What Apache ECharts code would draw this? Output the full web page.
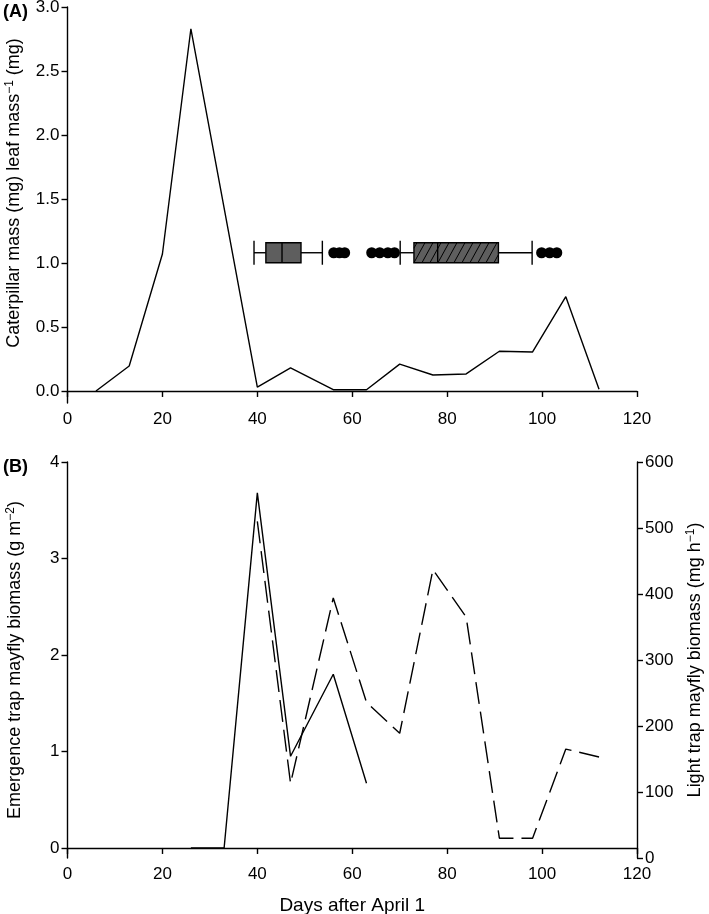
<!DOCTYPE html>
<html><head><meta charset="utf-8">
<script src="https://cdn.jsdelivr.net/npm/echarts@6/dist/echarts.min.js"></script>
<style>html,body{margin:0;padding:0;background:#fff}#c{width:709px;height:914px}</style>
</head><body><div id="c"></div>
<script>
// ---- data ----
const daysA = [6, 13, 20, 26, 40, 47, 56, 63, 70, 77, 84, 91, 98, 105, 112];
const caterpillar = [0.0, 0.195, 1.07, 2.83, 0.03, 0.18, 0.01, 0.01, 0.21, 0.125, 0.133, 0.31, 0.305, 0.737, 0.013];
const boxLevel = 1.08;
const box1 = [39.3, 41.8, 45.2, 49.2, 53.7];   // whisker-lo, q1, median, q3, whisker-hi (days)
const box2 = [70.1, 73.0, 78.0, 90.8, 97.9];
const box1Outliers = [56.1, 57.3, 58.4];
const box2Outliers = [64.1, 65.8, 67.5, 68.9, 99.9, 101.6, 103.1];
const daysEmerg = [26, 33, 40, 47, 56, 63];
const emergence = [0, 0, 3.68, 0.95, 1.80, 0.67];
const daysLight = [40, 47, 56, 63, 70, 77, 84, 91, 98, 105, 112];
const lightTrap = [510, 113, 394, 236, 189, 437, 365, 30, 30, 165, 153];
const xTicks = [0, 20, 40, 60, 80, 100, 120];
const yTicksA = [0, 0.5, 1, 1.5, 2, 2.5, 3];
const yTicksBL = [0, 1, 2, 3, 4];
const yTicksBR = [0, 100, 200, 300, 400, 500, 600];

const FONT = 'Liberation Sans, Arial, Helvetica, sans-serif';
const chart = echarts.init(document.getElementById('c'), null, {renderer: 'canvas'});

const axisCommon = {
  axisLine: {show: true, lineStyle: {color: '#000', width: 1.4}},
  axisTick: {show: true, length: 6, lineStyle: {color: '#000', width: 1.4}},
  axisLabel: {color: '#000', fontSize: 17, fontFamily: FONT, margin: 8},
  splitLine: {show: false}
};
function xAx(grid, name) {
  return Object.assign({}, axisCommon, {
    type: 'value', gridIndex: grid, min: xTicks[0], max: xTicks[xTicks.length - 1],
    interval: xTicks[1] - xTicks[0],
    axisLabel: Object.assign({}, axisCommon.axisLabel, {margin: 8}),
    name: name || '', nameLocation: 'middle', nameGap: 38,
    nameTextStyle: {color: '#000', fontSize: 19, fontFamily: FONT}
  });
}
function richName(main, sup, tail) {
  return '{n|' + main + '}{s|' + sup + '}{n|' + tail + '}';
}
const richStyle = {
  n: {fontSize: 18, fontFamily: FONT, color: '#000', lineHeight: 22},
  s: {fontSize: 12, fontFamily: FONT, color: '#000', lineHeight: 13, verticalAlign: 'top'}
};

function renderBox(params, api) {
  const lo = api.value(0), q1 = api.value(1), med = api.value(2), q3 = api.value(3), hi = api.value(4);
  const lev = api.value(5), hatch = api.value(6);
  const pLo = api.coord([lo, lev]), pQ1 = api.coord([q1, lev]), pMed = api.coord([med, lev]);
  const pQ3 = api.coord([q3, lev]), pHi = api.coord([hi, lev]);
  const y = pLo[1], h = 10, c = 12;
  const st = {stroke: '#000', lineWidth: 1.4, fill: null};
  const ch = [
    {type: 'line', shape: {x1: pLo[0], y1: y, x2: pQ1[0], y2: y}, style: st},
    {type: 'line', shape: {x1: pQ3[0], y1: y, x2: pHi[0], y2: y}, style: st},
    {type: 'line', shape: {x1: pLo[0], y1: y - c, x2: pLo[0], y2: y + c}, style: st},
    {type: 'line', shape: {x1: pHi[0], y1: y - c, x2: pHi[0], y2: y + c}, style: st},
    {type: 'rect', shape: {x: pQ1[0], y: y - h, width: pQ3[0] - pQ1[0], height: 2 * h},
      style: {fill: '#5e5e5e', stroke: '#000', lineWidth: 1.4}}
  ];
  if (hatch) {
    const xl = pQ1[0], xr = pQ3[0], dx = 11;
    for (let x = xl - dx + 3; x < xr; x += 8) {
      const t0 = Math.max(0, (xl - x) / dx), t1 = Math.min(1, (xr - x) / dx);
      if (t1 > t0) {
        ch.push({type: 'line', shape: {
          x1: x + t0 * dx, y1: y + h - t0 * 2 * h,
          x2: x + t1 * dx, y2: y + h - t1 * 2 * h}, style: {stroke: '#000', lineWidth: 1}});
      }
    }
  }
  ch.push({type: 'line', shape: {x1: pMed[0], y1: y - h, x2: pMed[0], y2: y + h}, style: st});
  return {type: 'group', children: ch};
}

const outliers = box1Outliers.concat(box2Outliers).map(d => [d, boxLevel]);

const option = {
  backgroundColor: '#fff',
  animation: false,
  textStyle: {fontFamily: FONT},
  grid: [
    {left: 67.5, right: 72, top: 7, height: 396, containLabel: false, outerBoundsMode: 'none'},
    {left: 67.5, right: 72, top: 462, height: 396, containLabel: false, outerBoundsMode: 'none'}
  ],
  xAxis: [xAx(0), xAx(1, 'Days after April 1')],
  yAxis: [
    Object.assign({}, axisCommon, {
      type: 'value', gridIndex: 0, min: -0.094, max: 3,
      axisLabel: Object.assign({}, axisCommon.axisLabel, {customValues: yTicksA, formatter: v => v.toFixed(1)}),
      axisTick: Object.assign({}, axisCommon.axisTick, {customValues: yTicksA}),
      name: richName('Caterpillar mass (mg) leaf mass', '−1', ' (mg)'),
      nameLocation: 'middle', nameGap: 42, nameRotate: 90,
      nameTextStyle: {rich: richStyle, padding: [0, 0, 0, 24]}
    }),
    Object.assign({}, axisCommon, {
      type: 'value', gridIndex: 1, min: -0.104, max: 4, position: 'left',
      axisLabel: Object.assign({}, axisCommon.axisLabel, {customValues: yTicksBL, formatter: v => String(v)}),
      axisTick: Object.assign({}, axisCommon.axisTick, {customValues: yTicksBL}),
      name: richName('Emergence trap mayfly biomass (g m', '−2', ')'),
      nameLocation: 'middle', nameGap: 41, nameRotate: 90,
      nameTextStyle: {rich: richStyle}
    }),
    Object.assign({}, axisCommon, {
      type: 'value', gridIndex: 1, min: 0, max: 600, interval: 100, position: 'right',
      name: richName('Light trap mayfly biomass (mg h', '−1', ')'),
      nameLocation: 'middle', nameGap: 45, nameRotate: 90,
      nameTextStyle: {rich: richStyle}
    })
  ],
  graphic: [
    {type: 'text', left: 3, top: 3, style: {text: '(A)', fontSize: 18, fontWeight: 'bold', fontFamily: FONT, fill: '#000'}},
    {type: 'text', left: 3, top: 458, style: {text: '(B)', fontSize: 18, fontWeight: 'bold', fontFamily: FONT, fill: '#000'}}
  ],
  series: [
    {type: 'line', xAxisIndex: 0, yAxisIndex: 0, showSymbol: false, symbol: 'none',
      lineStyle: {color: '#000', width: 1.4}, data: daysA.map((d, i) => [d, caterpillar[i]])},
    {type: 'custom', xAxisIndex: 0, yAxisIndex: 0, renderItem: renderBox,
      data: [box1.concat([boxLevel, 0]), box2.concat([boxLevel, 1])], z: 3},
    {type: 'scatter', xAxisIndex: 0, yAxisIndex: 0, symbol: 'circle', symbolSize: 11,
      itemStyle: {color: '#000', opacity: 1}, data: outliers, z: 4},
    {type: 'line', xAxisIndex: 1, yAxisIndex: 1, showSymbol: false, symbol: 'none',
      lineStyle: {color: '#000', width: 1.4}, data: daysEmerg.map((d, i) => [d, emergence[i]])},
    {type: 'line', xAxisIndex: 1, yAxisIndex: 2, showSymbol: false, symbol: 'none',
      lineStyle: {color: '#000', width: 1.4, type: [22, 8]}, data: daysLight.map((d, i) => [d, lightTrap[i]])}
  ]
};
chart.setOption(option);
</script>
</body></html>
